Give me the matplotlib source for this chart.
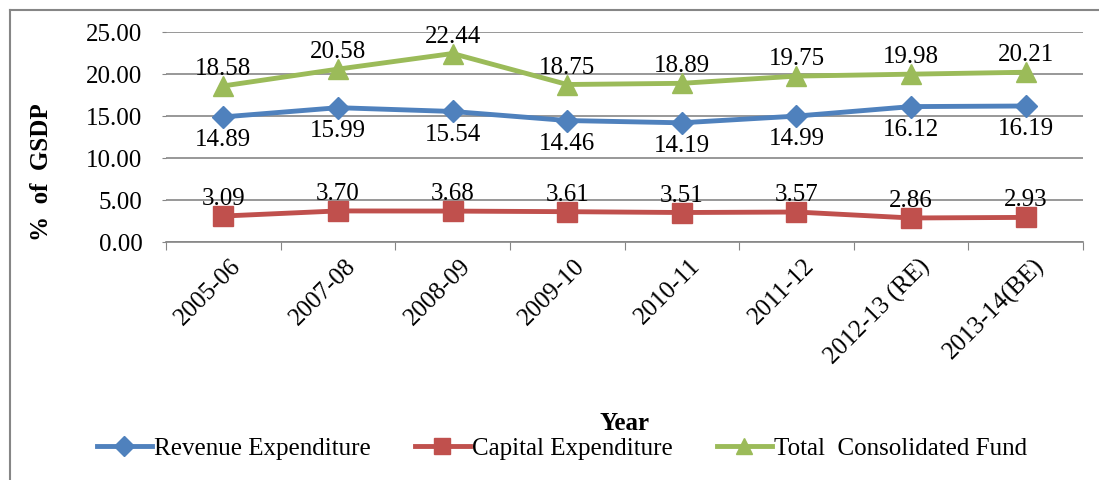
import numpy as np
import matplotlib.pyplot as plt
from matplotlib.lines import Line2D

years = ["2005-06", "2007-08", "2008-09", "2009-10", "2010-11", "2011-12",
         "2012-13 (RE)", "2013-14(BE)"]
revenue = [14.89, 15.99, 15.54, 14.46, 14.19, 14.99, 16.12, 16.19]
capital = [3.09, 3.70, 3.68, 3.61, 3.51, 3.57, 2.86, 2.93]
total = [18.58, 20.58, 22.44, 18.75, 18.89, 19.75, 19.98, 20.21]

plt.rcParams['font.family'] = ['Liberation Serif', 'DejaVu Serif']

W, H = 1099, 481
fig = plt.figure(figsize=(W/100, H/100), dpi=100)
ax = fig.add_axes([166/W, 1 - 243/H, (1083-166)/W, (243-33)/H])

x = np.arange(len(years))
blue, red, green = "#4F81BD", "#C0504D", "#9BBB59"

ax.plot(x, revenue, color=blue, lw=3.5, marker="D", ms=11, label="Revenue Expenditure")
ax.plot(x, capital, color=red, lw=3.5, marker="s", ms=14, label="Capital Expenditure")
ax.plot(x, total, color=green, lw=3.5, marker="^", ms=15, label="Total  Consolidated Fund")

fs = 18
for i in x:
    ax.annotate(f"{total[i]:.2f}", (i, total[i]), xytext=(0, 5), textcoords="offset points",
                ha="center", va="bottom", fontsize=fs)
    ax.annotate(f"{revenue[i]:.2f}", (i, revenue[i]), xytext=(0, -8), textcoords="offset points",
                ha="center", va="top", fontsize=fs)
    ax.annotate(f"{capital[i]:.2f}", (i, capital[i]), xytext=(0, 5), textcoords="offset points",
                ha="center", va="bottom", fontsize=fs)

ax.set_xlim(-0.5, len(years) - 0.5)
ax.set_ylim(0, 25)
ax.set_yticks(np.arange(0, 26, 5))
ax.set_yticklabels([f"{v:.2f}" for v in np.arange(0, 26, 5)], fontsize=fs)
ax.yaxis.grid(True, color="#868686", lw=1.2)
ax.set_axisbelow(True)
ax.tick_params(axis="y", length=3, color="#868686", pad=14)

ax.set_xticks(np.arange(len(years) + 1) - 0.5, minor=False)
ax.set_xticklabels([])
ax.tick_params(axis="x", length=6, color="#868686")
for i, lab in enumerate(years):
    ax.text(i + 0.06, -1.4, lab, rotation=45, ha="right", va="top", fontsize=fs,
            rotation_mode="anchor")

for s in ["left", "right", "top"]:
    ax.spines[s].set_visible(False)
ax.spines["bottom"].set_color("#868686")
ax.spines["bottom"].set_linewidth(1.2)

fig.text(42/W, 1 - 172/H, "%  of  GSDP", rotation=90, ha="center", va="center",
         fontsize=18, fontweight="bold")
fig.text(625/W, 1 - 424/H, "Year", ha="center", va="center", fontsize=18, fontweight="bold")

handles = [Line2D([], [], color=blue, lw=3.5, marker="D", ms=10),
           Line2D([], [], color=red, lw=3.5, marker="s", ms=11),
           Line2D([], [], color=green, lw=3.5, marker="^", ms=11)]
fig.legend(handles, ["Revenue Expenditure", "Capital Expenditure", "Total  Consolidated Fund"],
           loc="center", bbox_to_anchor=(562/W, 1 - 449/H), ncol=3, frameon=False,
           fontsize=fs, handlelength=2.2, handletextpad=0.1, columnspacing=1.75)

# outer frame
fig.add_artist(Line2D([10/W, 10/W], [0, 1 - 11/H], color="#868686", lw=1.5,
                      transform=fig.transFigure))
fig.add_artist(Line2D([10/W, 1], [1 - 11/H, 1 - 11/H], color="#868686", lw=1.5,
                      transform=fig.transFigure))

fig.savefig("out.png", dpi=100)
